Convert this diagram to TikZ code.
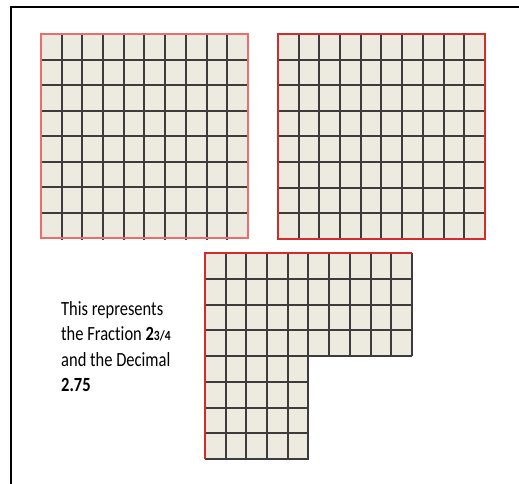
\documentclass[tikz,border=0pt]{standalone}
\usepackage{fontspec}
\setmainfont[Ligatures=NoCommon]{Carlito}
\usepackage{graphicx}
\definecolor{cellfill}{HTML}{EDEBE0}
\definecolor{gridline}{HTML}{3C3C3C}
\definecolor{lightred}{HTML}{F06C6C}
\definecolor{darkred}{HTML}{D22C2C}

\begin{document}
\begin{tikzpicture}[x=1pt, y=-1pt,
    gridlines/.style={draw=gridline, line width=1.4pt},
    outline/.style={line width=1.5pt}]
  \useasboundingbox (0,0) rectangle (519,484);
  % page frame
  \draw[line width=2pt] (11,484) -- (11,7) -- (519,7);
  % first whole
  \fill[cellfill] (41,34) rectangle (248,238);
  \foreach \i in {1,...,9}
    \draw[gridlines] ({41+round(\i*20.7)},34) -- ({41+round(\i*20.7)},240);
  \foreach \j in {1,...,7}
    \draw[gridlines] (41,{34+round(\j*25.5)}) -- (248,{34+round(\j*25.5)});
  \draw[outline, draw=lightred] (41,34) rectangle (248,238);
  % second whole
  \fill[cellfill] (278,34) rectangle (485,239);
  \foreach \i in {1,...,9}
    \draw[gridlines] ({278+round(\i*20.7)},34) -- ({278+round(\i*20.7)},239);
  \foreach \j in {1,...,7}
    \draw[gridlines] (278,{34+round(\j*25.6)}) -- (485,{34+round(\j*25.6)});
  \draw[outline, draw=darkred] (278,34) rectangle (485,239);
  % three quarters
  \fill[cellfill] (205,253) -- (412,253) -- (412,356) -- (308.5,356)
    -- (308.5,459) -- (205,459) -- cycle;
  \foreach \i in {1,...,5}
    \draw[gridlines] ({205+round(\i*20.7)},253) -- ({205+round(\i*20.7)},459);
  \foreach \i in {6,...,10}
    \draw[gridlines] ({205+round(\i*20.7)},253) -- ({205+round(\i*20.7)},356);
  \foreach \j in {1,...,4}
    \draw[gridlines] (205,{253+round(\j*25.75)}) -- (412,{253+round(\j*25.75)});
  \foreach \j in {5,...,8}
    \draw[gridlines] (205,{253+round(\j*25.75)}) -- (308.5,{253+round(\j*25.75)});
  \draw[outline, draw=darkred] (205,459) -- (205,253) -- (412,253);
  % caption
  \node[anchor=north west, inner sep=0pt] (caption) at (61,297)
    {\fontsize{16.5}{21}\selectfont\scalebox{1}[1.22]{%
      \begin{tabular}{@{}l@{}}
        This represents\\
        the Fraction \textbf{2}{\fontsize{11.5}{13}\selectfont\textbf{3/4}}\\
        and the Decimal\\
        \textbf{2.75}
      \end{tabular}}};
\end{tikzpicture}
\end{document}
